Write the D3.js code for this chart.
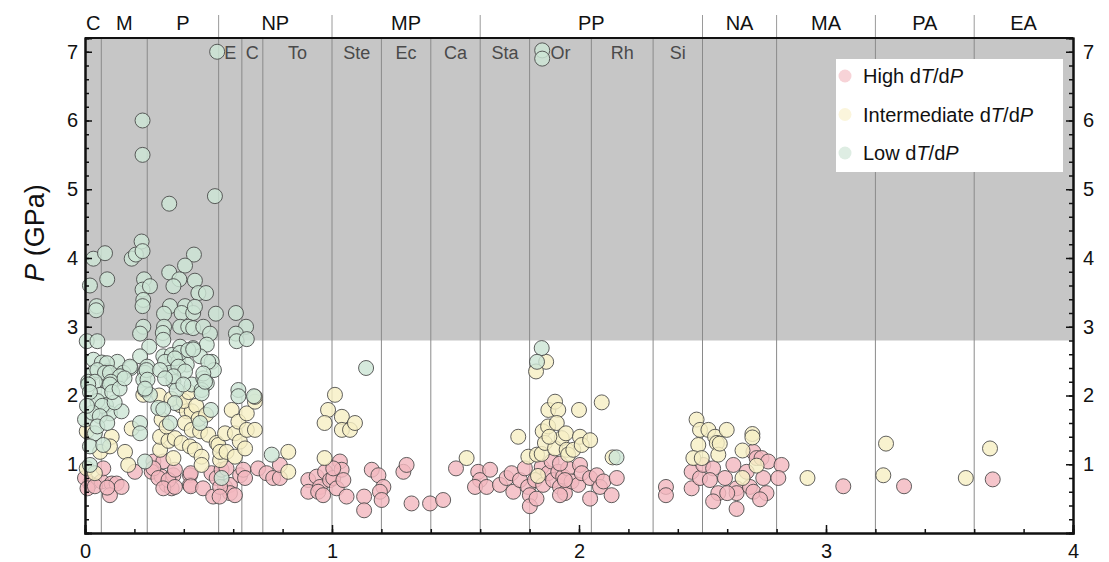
<!DOCTYPE html>
<meta charset="UTF-8">
<style>
body { margin: 0; background: #fff; }
text { font-family: "Liberation Sans", Arial, sans-serif; }
.tick text { font-size: 20px; fill: #111; }
.axis path, .axis line { stroke: #111; }
.dot { stroke: #444; stroke-width: 1; stroke-opacity: 0.85; fill-opacity: 0.82; }
</style>
<body>
<script src="https://d3js.org/d3.v7.min.js"></script>
<script>
// eras (top row) and periods (second row), in Ga
var eraNames  = ["C", "M", "P", "NP", "MP", "PP", "NA", "MA", "PA", "EA"];
var eraBounds = [0, 0.066, 0.252, 0.541, 1.0, 1.6, 2.5, 2.8, 3.2, 3.6, 4.0];
var eraTicks  = [0.541, 1.0, 1.6, 2.5, 2.8, 3.2, 3.6];
var periodNames  = ["E", "C", "To", "Ste", "Ec", "Ca", "Sta", "Or", "Rh", "Si"];
var periodBounds = [0.541, 0.635, 0.72, 1.0, 1.2, 1.4, 1.6, 1.8, 2.05, 2.3, 2.5];
var divLines = [0.066, 0.252, 0.541, 0.635, 0.72, 1.0, 1.2, 1.4, 1.6, 1.8, 2.05, 2.3, 2.5, 2.8, 3.2, 3.6];
var xTicks = [0, 1, 2, 3, 4];
var yTicks = [1, 2, 3, 4, 5, 6, 7];
var uhpLimit = 2.8; // shaded band above this pressure

// [age (Ga), P (GPa)]
var highDTdP = [
  [0.02,0.72],[0.0,0.80],[0.067,0.75],[0.108,0.72],[0.128,0.72],[0.101,0.55],[0.148,0.67],[0.074,0.94],
  [0.01,0.65],[0.04,0.68],[0.09,0.66],[0.202,0.89],[0.277,1.04],[0.27,0.89],[0.31,0.82],[0.331,0.70],
  [0.351,0.65],[0.358,0.84],[0.317,1.04],[0.277,0.94],[0.297,0.80],[0.338,0.77],[0.317,0.65],[0.364,0.67],
  [0.364,0.92],[0.425,0.84],[0.425,0.70],[0.428,0.87],[0.428,0.68],[0.478,0.65],[0.519,0.53],[0.512,0.87],
  [0.533,0.80],[0.553,0.92],[0.567,0.67],[0.587,0.70],[0.587,0.58],[0.607,0.55],[0.628,0.84],[0.641,0.92],
  [0.648,0.80],[0.547,0.67],[0.573,0.94],[0.545,0.53],[0.701,0.94],[0.735,0.87],[0.762,0.80],[0.789,0.80],
  [0.789,0.99],[0.904,0.77],[0.904,0.60],[0.938,0.82],[0.951,0.67],[0.972,0.89],[0.992,0.77],[1.005,0.80],
  [1.032,1.04],[1.019,0.65],[1.059,0.53],[1.039,0.92],[0.944,0.60],[0.964,0.55],[1.005,0.94],[1.046,0.77],
  [1.13,0.53],[1.13,0.33],[1.161,0.92],[1.188,0.84],[1.208,0.67],[1.194,0.60],[1.201,0.48],[1.289,0.89],
  [1.302,0.99],[1.322,0.43],[1.397,0.43],[1.45,0.48],[1.502,0.94],[1.592,0.89],[1.599,0.77],[1.579,0.67],
  [1.64,0.92],[1.626,0.67],[1.68,0.70],[1.707,0.80],[1.727,0.87],[1.734,0.60],[1.761,0.77],[1.781,0.94],
  [1.794,0.67],[1.801,0.55],[1.801,0.39],[1.828,0.50],[1.822,0.77],[1.849,0.96],[1.855,0.70],[1.875,0.87],
  [1.889,1.04],[1.895,0.77],[1.923,0.67],[1.916,0.89],[1.936,0.82],[1.943,0.58],[1.956,0.94],[1.970,0.75],
  [1.997,0.70],[2.004,0.99],[2.011,0.87],[2.045,0.80],[2.045,0.50],[2.072,0.84],[2.085,0.67],[2.099,0.75],
  [2.132,0.55],[2.153,0.80],[1.923,1.01],[1.943,0.77],[1.923,0.55],
  [2.352,0.67],[2.352,0.55],[2.456,0.89],[2.456,0.65],[2.490,0.80],[2.503,0.99],[2.543,0.94],[2.530,0.77],
  [2.564,0.58],[2.543,0.46],[2.591,0.80],[2.625,0.99],[2.638,0.65],[2.638,0.58],[2.638,0.35],[2.679,0.89],
  [2.692,0.67],[2.706,0.60],[2.706,1.18],[2.719,1.09],[2.739,1.09],[2.746,0.80],[2.759,0.58],[2.733,0.49],
  [2.766,1.04],[2.82,0.99],[2.807,0.80],[2.6,0.58],[3.07,0.68],[3.316,0.68],[3.675,0.78]
];

var intDTdP = [
  [0.007,1.48],[0.108,1.40],[0.162,1.18],[0.175,0.99],[0.189,1.52],[0.007,0.94],[0.04,0.87],[0.061,1.18],
  [0.101,1.26],[0.236,2.01],[0.304,1.21],[0.304,1.40],[0.338,1.34],[0.358,1.09],[0.364,1.38],[0.391,1.31],
  [0.385,1.86],[0.412,1.77],[0.432,1.77],[0.405,1.60],[0.432,1.50],[0.466,1.48],[0.425,1.26],[0.445,1.21],
  [0.472,1.11],[0.472,0.99],[0.499,1.43],[0.533,1.31],[0.54,1.28],[0.547,1.06],[0.547,1.18],[0.567,1.45],
  [0.573,1.18],[0.594,1.79],[0.607,1.45],[0.607,1.11],[0.621,1.62],[0.627,1.33],[0.648,1.23],[0.655,1.74],
  [0.655,1.50],[0.688,1.50],[0.688,1.91],[0.688,1.98],[0.30,2.00],[0.35,1.95],[0.40,1.92],[0.45,1.85],
  [0.31,1.65],[0.33,1.55],[0.46,1.66],[0.49,1.72],[0.42,2.05],
  [0.823,1.18],[0.823,0.89],[0.97,1.09],[0.984,1.79],[1.012,2.01],[0.97,1.60],[1.04,1.69],[1.04,1.50],
  [1.073,1.50],[1.093,1.60],
  [1.545,1.09],[1.754,1.40],[1.795,1.11],[1.834,0.83],[1.83,1.14],[1.849,1.15],[1.853,1.48],[1.862,1.31],
  [1.876,1.79],[1.875,1.55],[1.903,1.91],[1.916,1.79],[1.91,1.60],[1.903,1.23],[1.93,1.38],[1.947,1.45],
  [1.95,1.21],[1.956,1.14],[1.977,1.21],[2.004,1.40],[2.0,1.79],[2.011,1.28],[2.045,1.35],[2.092,1.90],
  [2.136,1.10],[1.867,2.49],[1.826,2.35],[1.88,1.40],
  [2.476,1.65],[2.49,1.50],[2.524,1.50],[2.551,1.40],[2.558,1.31],[2.483,1.28],[2.463,1.09],[2.497,1.09],
  [2.564,1.14],[2.598,1.50],[2.702,1.44],[2.702,1.39],[2.662,1.20],[2.719,0.98],[2.662,0.80],[2.57,1.30],
  [2.925,0.80],[3.243,1.30],[3.232,0.84],[3.566,0.80],[3.664,1.23]
];

var lowDTdP = [
  [0.535,7.0],[0.233,6.0],[0.233,5.5],[0.526,4.9],[0.341,4.79],
  [0.034,3.99],[0.081,4.07],[0.189,3.99],[0.206,4.05],[0.229,4.24],[0.233,4.10],[0.441,4.05],[0.405,3.89],
  [0.341,3.79],[0.090,3.69],[0.382,3.69],[0.358,3.59],[0.445,3.67],[0.020,3.60],[0.239,3.69],[0.233,3.54],
  [0.263,3.59],[0.459,3.49],[0.49,3.49],[0.236,3.39],[0.233,3.30],[0.047,3.30],[0.045,3.24],[0.344,3.30],
  [0.32,3.19],[0.405,3.30],[0.391,3.20],[0.438,3.20],[0.445,3.29],[0.53,3.19],[0.611,3.20],[0.236,3.00],
  [0.223,2.90],[0.32,3.0],[0.385,3.0],[0.418,3.0],[0.438,2.98],[0.479,3.0],[0.506,2.90],[0.652,3.0],
  [0.611,2.9],[0.614,2.79],[0.655,2.82],[0.315,2.91],[0.317,2.81],[0.007,2.79],[0.05,2.79],[0.493,2.74],
  [0.26,2.71],[0.385,2.71],[0.438,2.69],
  [0.223,2.57],[0.317,2.57],[0.351,2.59],[0.466,2.57],[0.034,2.52],[0.068,2.48],[0.131,2.49],[0.252,2.42],
  [0.185,2.40],[0.155,2.33],[0.324,2.49],[0.378,2.49],[0.412,2.45],[0.513,2.49],[0.522,2.37],[0.088,2.35],
  [0.034,2.33],[0.013,2.20],[0.088,2.2],[0.121,2.23],[0.243,2.33],[0.236,2.23],[0.344,2.33],[0.358,2.2],
  [0.432,2.16],[0.479,2.25],[0.493,2.18],[0.243,2.08],[0.371,2.08],[0.472,2.08],[0.621,2.08],[0.621,1.99],
  [0.684,1.99],[0.385,2.62],[0.364,2.54],[0.418,2.66],[0.438,2.67],[0.499,2.49],[0.378,2.42],[0.405,2.35],
  [0.358,2.28],[0.398,2.16],[0.479,2.32],[0.364,1.89],[0.466,1.60],[0.51,1.79],[0.344,1.6],[0.472,2.03],
  [0.486,2.2],[0.089,2.47],[0.182,2.42],[0.249,2.37],[0.050,2.37],[0.081,2.33],[0.101,2.33],[0.142,2.28],
  [0.04,2.2],[0.105,2.2],[0.253,2.23],[0.304,2.37],[0.324,2.25],
  [0.013,2.16],[0.061,2.01],[0.101,2.16],[0.085,1.86],[0.101,1.74],[0.148,1.77],[0.0,1.65],[0.04,1.45],
  [0.02,1.26],[0.074,1.28],[0.02,0.99],[0.223,1.6],[0.223,1.45],[0.243,1.04],[0.297,1.82],[0.317,1.80],
  [0.263,2.01],[0.243,2.1],[0.05,1.92],[0.07,1.85],[0.12,1.9],[0.03,1.75],[0.06,1.7],[0.11,2.05],
  [0.14,2.1],[0.16,2.25],[0.02,2.05],[0.008,1.85],[0.05,1.55],[0.09,1.6],
  [0.553,0.80],[0.756,1.14],
  [1.138,2.40],[1.849,2.69],[1.83,2.49],[2.152,1.10],[1.851,7.02],[1.851,6.9]
];

var series = [
  {name: "High", data: highDTdP, fill: "#f3b8bf", key: "#f7d3d7"},
  {name: "Intermediate", data: intDTdP, fill: "#f7efc4", key: "#fbf5dc"},
  {name: "Low", data: lowDTdP, fill: "#cde5d5", key: "#deede3"}
];

var W = 1109, H = 562;
var plotL = 85, plotR = 1073, plotT = 38, plotB = 533;

var x = d3.scaleLinear().domain([0, 4]).range([plotL, plotR]);
var y = d3.scaleLinear().domain([0, 7.2]).range([plotB, plotT]);

var svg = d3.select("body").append("svg")
    .attr("width", W).attr("height", H);

// shaded high pressure band
svg.append("rect")
    .attr("x", x(0)).attr("y", y(7.2))
    .attr("width", x(4) - x(0)).attr("height", y(uhpLimit) - y(7.2))
    .attr("fill", "#c6c6c6");

// division lines
svg.selectAll(".div").data(divLines).enter().append("line")
    .attr("x1", d => x(d)).attr("x2", d => x(d))
    .attr("y1", y(0)).attr("y2", y(7.2))
    .attr("stroke", "#8a8a8a").attr("stroke-width", 1);

// ticks above plot at eon/era boundaries
svg.selectAll(".etick").data(eraTicks).enter().append("line")
    .attr("x1", d => x(d)).attr("x2", d => x(d))
    .attr("y1", 15).attr("y2", plotT)
    .attr("stroke", "#9a9a9a").attr("stroke-width", 1);

// era labels
svg.selectAll(".era").data(eraNames).enter().append("text")
    .attr("x", (d, i) => x((eraBounds[i] + eraBounds[i + 1]) / 2))
    .attr("y", 30)
    .attr("text-anchor", "middle")
    .style("font-size", "20px").attr("fill", "#111")
    .text(d => d);

// period labels
svg.selectAll(".period").data(periodNames).enter().append("text")
    .attr("x", (d, i) => x((periodBounds[i] + periodBounds[i + 1]) / 2))
    .attr("y", 59)
    .attr("text-anchor", "middle")
    .style("font-size", "18px").attr("fill", "#4a4a4a")
    .text(d => d);

// points
series.forEach(function(s) {
  svg.append("g").selectAll("circle").data(s.data).enter().append("circle")
      .attr("class", "dot")
      .attr("cx", d => x(d[0])).attr("cy", d => y(d[1]))
      .attr("r", 7.5)
      .attr("fill", s.fill);
});

// axes
function styleAxis(g) {
  g.attr("class", "axis");
  g.selectAll("path").attr("stroke-width", 2);
  g.selectAll("line").attr("stroke-width", 1.5);
}

svg.append("g").attr("transform", "translate(0," + plotB + ")")
    .call(d3.axisBottom(x).tickValues(d3.range(0.2, 4, 0.2)).tickSize(-4).tickFormat(""))
    .call(styleAxis);
svg.append("g").attr("transform", "translate(0," + plotB + ")")
    .call(d3.axisBottom(x).tickValues(xTicks).tickSize(-8).tickPadding(11).tickFormat(d3.format("d")))
    .call(styleAxis);

[[plotL, d3.axisLeft, 7], [plotR, d3.axisRight, 10]].forEach(function(a) {
  svg.append("g").attr("transform", "translate(" + a[0] + ",0)")
      .call(a[1](y).tickValues(d3.range(0.2, 7.2, 0.2)).tickSize(-4).tickFormat(""))
      .call(styleAxis);
  svg.append("g").attr("transform", "translate(" + a[0] + ",0)")
      .call(a[1](y).tickValues(yTicks).tickSize(-7).tickPadding(a[2]).tickFormat(d3.format("d")))
      .call(styleAxis);
});

// top frame
svg.append("line")
    .attr("x1", plotL).attr("x2", plotR).attr("y1", plotT).attr("y2", plotT)
    .attr("stroke", "#111").attr("stroke-width", 2);

// y label
var yl = svg.append("text")
    .attr("transform", "translate(44,233) rotate(-90)")
    .attr("text-anchor", "middle")
    .style("font-size", "27px").attr("fill", "#111");
yl.append("tspan").style("font-style", "italic").text("P");
yl.append("tspan").text(" (GPa)");

// legend
var lg = svg.append("g").attr("transform", "translate(836,59)");
lg.append("rect").attr("width", 227).attr("height", 113).attr("fill", "#fff");
series.forEach(function(s, i) {
  var row = lg.append("g").attr("transform", "translate(0," + (17 + i * 38.5) + ")");
  row.append("circle").attr("cx", 9).attr("cy", 0).attr("r", 6.5).attr("fill", s.key);
  var t = row.append("text").attr("x", 27).attr("y", 7)
      .style("font-size", "20px").attr("fill", "#111");
  t.append("tspan").text(s.name + " d");
  t.append("tspan").style("font-style", "italic").text("T");
  t.append("tspan").text("/d");
  t.append("tspan").style("font-style", "italic").text("P");
});
</script>
</body>
